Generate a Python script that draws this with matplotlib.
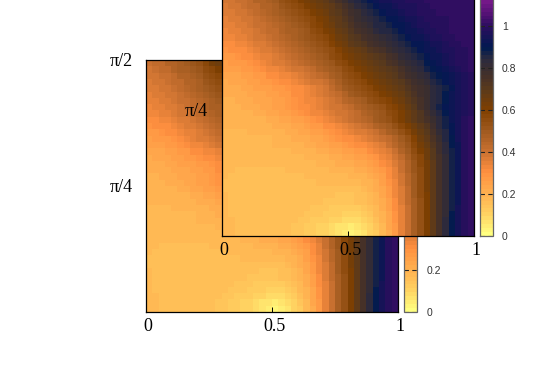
import numpy as np
import matplotlib
matplotlib.use("Agg")
import matplotlib.pyplot as plt
from matplotlib.colors import LinearSegmentedColormap
from matplotlib.transforms import ScaledTranslation

# map values in percent, bottom row first
rows = [
    [17,17,16,16,16,16,16,15,15,15, 15,14,14,13,12,11,10,8,6,4, 3,5,7,10,13,17,22,28,34,40, 47,54,61,68,76,83,89,94,98,100],
    [17,17,16,16,16,16,16,15,15,15, 15,14,14,13,12,11,10,9,7,6, 5,6,8,11,14,18,23,28,34,40, 47,54,61,68,76,83,89,94,98,100],
    [17,17,16,16,16,16,16,15,15,15, 15,15,14,14,13,13,12,11,10,9, 8,9,10,12,15,19,23,29,34,41, 47,54,61,68,76,83,89,94,98,100],
    [17,16,16,16,16,16,16,15,15,15, 15,15,15,14,14,14,13,13,12,11, 11,11,12,14,17,20,24,29,35,41, 47,54,61,68,75,82,89,94,98,100],
    [17,16,16,16,16,16,16,16,15,15, 16,15,15,15,14,14,14,13,13,13, 13,13,14,16,18,21,25,30,35,41, 47,54,61,68,75,82,88,94,98,100],
    [17,16,16,16,16,16,16,16,15,15, 16,16,15,15,15,15,14,14,14,14, 14,15,16,17,19,22,26,31,36,42, 48,54,61,68,75,82,88,93,98,100],
    [17,16,16,16,16,16,16,16,16,15, 15,15,15,15,15,15,15,15,14,14, 14,15,16,18,20,23,27,32,37,43, 49,55,61,68,75,82,88,93,98,100],
    [16,16,16,16,16,16,15,15,15,15, 15,15,15,15,16,16,16,16,15,15, 15,16,17,19,21,24,28,32,37,43, 49,55,62,68,75,82,88,93,98,100],
    [16,16,16,16,16,16,16,16,16,16, 16,16,16,16,16,17,17,17,17,17, 17,18,19,20,22,25,29,33,38,44, 49,55,62,69,75,82,88,93,98,100],
    [17,16,16,16,16,16,16,16,16,16, 16,16,16,17,17,17,18,18,18,18, 19,19,20,22,24,26,30,34,39,44, 50,56,62,69,75,82,88,93,98,100],
    [17,17,16,16,16,16,16,16,16,16, 17,17,17,17,18,18,18,19,19,20, 20,21,22,23,25,28,31,35,40,45, 51,56,62,69,75,82,88,93,98,100],
    [17,17,17,17,17,17,17,17,17,17, 17,17,18,18,18,19,19,20,21,21, 22,23,24,25,27,30,33,37,41,46, 52,57,63,69,76,82,88,93,98,100],
    [17,17,17,17,17,17,17,17,17,18, 18,18,18,19,19,20,20,21,22,23, 24,25,26,27,29,32,35,39,43,48, 53,58,64,70,76,82,88,93,98,100],
    [17,17,17,17,18,18,18,18,18,18, 18,19,19,19,20,21,22,23,24,25, 26,27,28,30,32,34,37,41,45,50, 55,60,65,71,77,83,88,93,98,100],
    [18,18,18,18,18,18,18,18,19,19, 19,20,20,21,22,23,24,25,26,28, 29,30,31,33,35,37,40,44,47,52, 57,62,67,72,78,84,89,93,98,100],
    [18,18,18,18,18,18,18,18,19,19, 20,21,22,22,23,24,26,27,29,30, 31,33,34,36,38,40,43,46,50,54, 59,64,69,74,80,85,89,94,98,100],
    [18,18,18,18,19,19,19,19,20,20, 21,22,23,24,25,26,28,29,31,33, 34,36,37,39,41,44,47,50,53,57, 62,66,71,76,81,86,90,94,98,100],
    [19,19,19,19,19,19,20,20,21,22, 22,23,24,25,27,28,30,31,33,35, 37,39,41,43,45,48,50,53,57,61, 65,69,73,78,83,87,91,95,98,100],
    [19,19,19,19,20,20,20,21,22,23, 24,25,26,27,29,30,32,34,36,38, 40,42,44,46,49,51,54,57,60,64, 68,72,76,80,84,88,92,95,98,100],
    [19,19,20,20, 20,21,22,23, 24,25,26,28, 29,30,32,33, 35,36,38,39, 41,43,45,48, 50,52,55,57, 60,64,69,73, 78,82,85,89, 92,95,97,99],
    [20,20,20,21, 21,22,23,24, 25,26,27,29, 30,31,33,34, 36,38,39,41, 43,45,47,50, 52,54,57,59, 62,66,71,75, 80,83,87,90, 93,95,97,99],
    [20,20,21,21, 22,23,23,24, 25,26,27,29, 30,32,33,35, 37,39,41,44, 46,48,50,53, 55,57,59,62, 64,68,72,76, 80,83,86,89, 92,95,97,99],
    [21,21,22,22, 23,24,24,25, 26,27,28,30, 31,33,35,36, 38,41,43,46, 49,51,53,56, 58,60,62,65, 67,70,74,77, 80,83,86,89, 92,95,97,99],
    [21,22,22,23, 24,25,25,26, 27,28,29,30, 31,33,35,37, 39,42,45,49, 52,54,56,58, 60,62,65,67, 69,72,75,77, 80,83,86,88, 91,94,97,99],
    [22,23,23,24, 25,26,27,28, 29,30,31,33, 34,36,38,39, 41,44,47,51, 54,56,58,60, 62,64,67,69, 71,74,77,79, 82,85,87,90, 92,95,97,99],
    [23,24,24,25, 26,27,28,30, 31,32,33,35, 36,38,40,42, 44,47,50,53, 56,58,60,62, 64,66,69,71, 74,77,79,82, 84,87,89,91, 93,95,97,99],
    [25,26,26,27, 28,29,30,32, 33,35,36,38, 39,41,43,45, 47,50,52,55, 58,60,62,64, 66,68,71,73, 76,79,82,84, 87,89,91,93, 95,97,99,100],
    [26,27,27,28, 29,31,33,34, 36,37,39,40, 42,44,46,48, 50,52,55,57, 60,62,64,66, 68,71,74,76, 79,81,84,86, 89,91,93,94, 96,98,99,100],
    [27,28,29,30, 31,32,34,35, 37,39,40,42, 44,46,48,50, 52,55,57,60, 62,64,66,69, 71,73,76,78, 81,83,85,88, 90,92,93,95, 96,98,99,100],
    [29,30,30,31, 32,34,36,37, 39,41,42,44, 46,48,50,52, 54,56,59,62, 65,67,69,72, 74,76,79,81, 84,86,88,90, 92,93,95,96, 97,98,99,100],
    [30,31,32,33, 34,36,37,39, 40,42,44,45, 47,49,51,54, 56,59,62,65, 68,70,73,75, 77,79,81,84, 86,88,90,91, 93,94,95,97, 98,99,100,100],
    [32,33,34,35, 36,38,39,41, 42,44,46,47, 49,51,53,56, 58,61,64,67, 70,73,76,78, 80,82,84,86, 88,90,92,93, 95,96,97,98, 99,100,100,101],
    [33,34,35,36, 37,39,40,42, 43,45,47,48, 50,52,55,57, 60,63,66,69, 72,75,78,80, 83,85,86,88, 90,92,93,95, 96,97,98,99, 100,100,101,101],
    [34,35,36,37, 38,40,41,43, 44,46,48,50, 52,54,57,59, 62,65,68,71, 74,77,80,82, 85,86,88,90, 91,93,94,96, 97,98,99,99, 100,100,101,101],
    [35,36,37,38, 39,41,42,44, 45,47,50,52, 54,56,58,61, 63,66,69,72, 76,79,82,84, 86,88,90,91, 93,94,95,97, 98,98,99,99, 100,100,101,101],
    [36,37,38,39, 40,42,44,45, 47,49,51,54, 56,58,61,63, 65,68,71,74, 77,80,83,85, 88,90,92,93, 95,96,97,98, 99,99,100,100, 100,100,101,101],
    [37,38,39,40, 42,43,45,46, 48,51,53,56, 58,60,62,64, 66,69,72,76, 80,83,85,88, 90,92,93,94, 96,97,97,98, 99,100,100,100, 101,101,101,101],
    [38,39,40,41, 43,45,46,48, 50,53,55,58, 60,62,64,66, 68,72,76,79, 83,86,88,91, 93,94,95,96, 97,98,98,99, 100,100,100,101, 101,101,101,101],
    [39,40,42,43, 45,47,48,50, 52,55,58,61, 64,66,68,70, 72,75,79,82, 85,87,90,92, 94,95,96,96, 97,98,99,99, 100,100,100,101, 101,101,101,101],
    [40,42,43,45, 46,48,50,52, 54,58,62,65, 68,70,72,74, 76,79,82,85, 88,90,92,94, 95,96,96,97, 98,99,99,100, 100,100,101,101, 101,101,101,101],
]

cmap_levels = [0.0, 0.1, 0.2, 0.3, 0.4, 0.5, 0.6, 0.7, 0.75, 0.8, 0.85, 0.9, 1.0, 1.05, 1.2]
cmap_colors = ["#ffff80", "#ffd060", "#ffb050", "#ff9040", "#c87030", "#a05a20", "#804000",
               "#5a3a1c", "#4a3226", "#3a2e30", "#2a2a40", "#001a50", "#2a0e5e", "#4a1070", "#a020a0"]
x_ticks = [0, 0.5, 1]
x_labels = ["0", "0.5", "1"]
back_y_ticks = [np.pi / 4, np.pi / 2]
back_y_labels = ["π/4", "π/2"]
front_y_ticks = [np.pi / 4]
front_y_labels = ["π/4"]
cbar_ticks = [0, 0.2, 0.4, 0.6, 0.8, 1]
cbar_labels = ["0", "0.2", "0.4", "0.6", "0.8", "1"]

W, H = 545, 382
Z = np.array(rows) / 100
cmap = LinearSegmentedColormap.from_list("map", [(v / 1.2, c) for v, c in zip(cmap_levels, cmap_colors)], N=64)


def panel(left, bottom, order, y_ticks, y_labels):
    ax = plt.gcf().add_axes([left / W, (H - bottom) / H, 252 / W, 252 / H], zorder=order)
    im = ax.imshow(Z, origin="lower", extent=[0, 1, 0, np.pi / 2], aspect="auto",
                   cmap=cmap, vmin=0, vmax=1.2, interpolation="nearest")
    ax.set_xticks(x_ticks, labels=x_labels, family="Liberation Serif", fontsize=13)
    ax.set_yticks(y_ticks, labels=y_labels, family="Liberation Serif", fontsize=13)
    ax.tick_params(axis="x", direction="in", length=3.5, width=0.7, pad=4.5)
    ax.tick_params(axis="y", length=0, pad=10)
    shift = ScaledTranslation(2 / 100, 0, plt.gcf().dpi_scale_trans)
    for label in ax.get_xticklabels():
        label.set_transform(label.get_transform() + shift)
    for spine in ax.spines.values():
        spine.set_linewidth(0.9)

    cax = plt.gcf().add_axes([(left + 258) / W, (H - bottom) / H, 13 / W, 252 / H], zorder=order)
    cbar = plt.gcf().colorbar(im, cax=cax)
    cbar.set_ticks(cbar_ticks, labels=cbar_labels)
    cax.tick_params(length=0, pad=6.5, labelsize=7.5, labelcolor="#333333")
    for label in cax.get_yticklabels():
        label.set_family("Liberation Sans")
    cax.hlines(cbar_ticks, 0, 1, colors="#222222", linewidth=0.8, linestyles=(0, (4, 3)))
    cbar.outline.set_linewidth(0.9)
    cbar.outline.set_edgecolor("#666666")


fig = plt.figure(figsize=(W / 100, H / 100), dpi=100)
panel(146.3, 312, 1, back_y_ticks, back_y_labels)
panel(222, 236, 2, front_y_ticks, front_y_labels)
fig.savefig("out.png", dpi=100)
